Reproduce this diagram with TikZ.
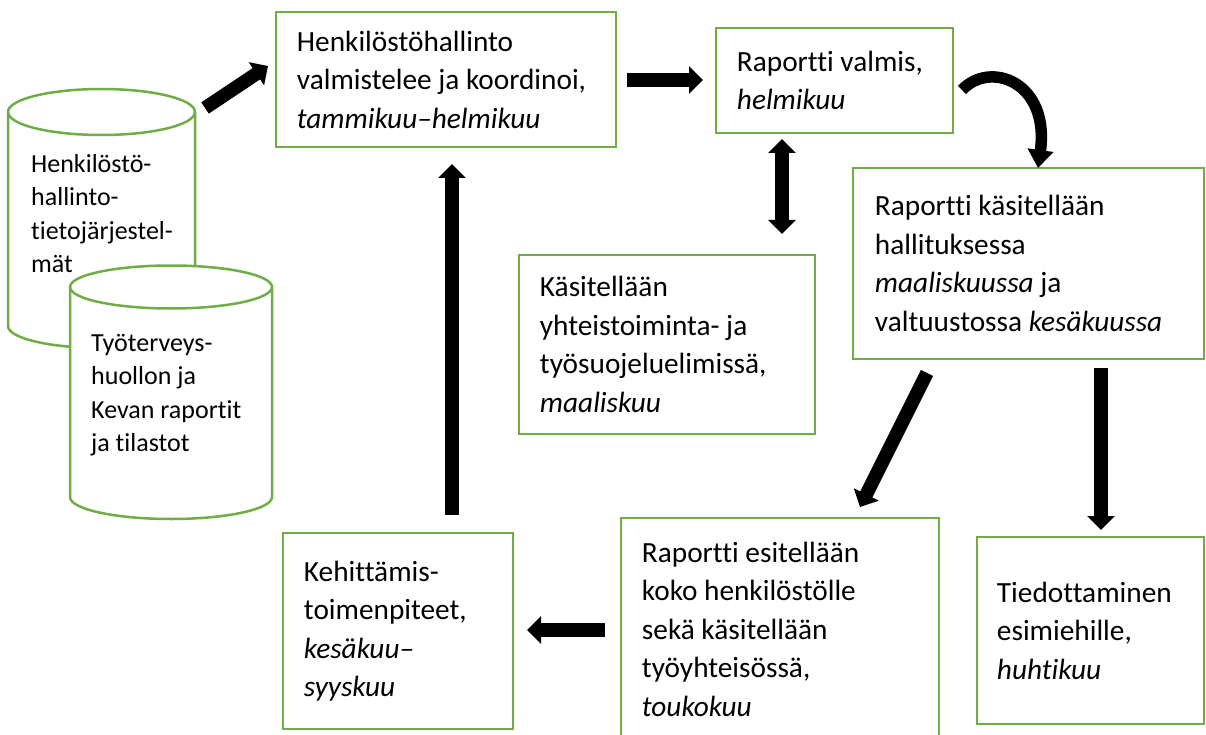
\documentclass[tikz,border=0pt]{standalone}
\usepackage{fontspec}
\setmainfont{Carlito}[Ligatures={NoCommon}]
\usetikzlibrary{arrows.meta}
\definecolor{boxgreen}{RGB}{112,173,71}
\begin{document}
\begin{tikzpicture}[x=1pt,y=-1pt,
  box/.style={draw=boxgreen, line width=2.5pt, rectangle, inner sep=0pt, fill=white},
  txt/.style={anchor=west, align=left, inner sep=0pt, font=\fontsize{29.3pt}{38.5pt}\selectfont},
  ctxt/.style={anchor=north west, align=left, inner sep=0pt, font=\fontsize{26pt}{33.5pt}\selectfont},
  cyl/.style={draw=boxgreen, line width=2.5pt, fill=white},
  blk/.style={draw=black, line width=13.5pt, -{Triangle[length=14pt,width=27pt]}},
  dblk/.style={draw=black, line width=13.5pt, {Triangle[length=14pt,width=27pt]}-{Triangle[length=14pt,width=27pt]}},
  cblk/.style={draw=black, line width=11.5pt, -{Triangle[length=18pt,width=25pt]}},
]
\fill[white] (0,0) rectangle (1206,735);
\useasboundingbox (0,0) rectangle (1206,735);

% cylinders
\path[cyl] (8,112) -- (8,326) arc[start angle=180,end angle=360,x radius=93.5pt,y radius=22pt]
  -- (195,112) arc[start angle=0,end angle=180,x radius=93.5pt,y radius=23pt] -- cycle;
\draw[boxgreen, line width=2.5pt] (8,112) arc[start angle=180,end angle=360,x radius=93.5pt,y radius=23pt];
\node[ctxt] (c1) at (31,154) {Henkilöstö-\\hallinto-\\tietojärjestel-\\mät};

\path[cyl] (70,287) -- (70,497) arc[start angle=180,end angle=360,x radius=101pt,y radius=22pt]
  -- (272,287) arc[start angle=0,end angle=180,x radius=101pt,y radius=21.5pt] -- cycle;
\draw[boxgreen, line width=2.5pt] (70,287) arc[start angle=180,end angle=360,x radius=101pt,y radius=21.5pt];
\node[ctxt] (c2) at (91,334) {Työterveys-\\huollon ja\\Kevan raportit\\ja tilastot};

% boxes
\node[box, minimum width=340pt, minimum height=135pt] (b1) at (446,79.5) {};
\node[txt] (t1) at ([xshift=22pt]b1.west) {Henkilöstöhallinto\\valmistelee ja koordinoi,\\\textit{tammikuu–helmikuu}};

\node[box, minimum width=237pt, minimum height=105pt] (b2) at (834.5,80.5) {};
\node[txt] (t2) at ([xshift=22pt]b2.west) {Raportti valmis,\\\textit{helmikuu}};

\node[box, minimum width=351pt, minimum height=191pt] (b3) at (1028.5,263.5) {};
\node[txt] (t3) at ([xshift=23pt]b3.west) {Raportti käsitellään\\hallituksessa\\\textit{maaliskuussa} ja\\valtuustossa \textit{kesäkuussa}};

\node[box, minimum width=296pt, minimum height=179pt] (b4) at (667,344.5) {};
\node[txt] (t4) at ([xshift=22pt]b4.west) {Käsitellään\\yhteistoiminta- ja\\työsuojeluelimissä,\\\textit{maaliskuu}};

\node[box, minimum width=318pt, minimum height=222pt] (b5) at (780,629) {};
\node[txt] (t5) at ([xshift=22pt]b5.west) {Raportti esitellään\\koko henkilöstölle\\sekä käsitellään\\työyhteisössä,\\\textit{toukokuu}};

\node[box, minimum width=227pt, minimum height=187pt] (b6) at (1090.5,630.5) {};
\node[txt] (t6) at ([xshift=21pt]b6.west) {Tiedottaminen\\esimiehille,\\\textit{huhtikuu}};

\node[box, minimum width=230pt, minimum height=196pt] (b7) at (398,631) {};
\node[txt] (t7) at ([xshift=22pt]b7.west) {Kehittämis-\\toimenpiteet,\\\textit{kesäkuu–}\\\textit{syyskuu}};

% arrow end points
\coordinate (a1s) at (205,108);  \coordinate (a1e) at (268,66);
\coordinate (a2s) at (627,80);   \coordinate (a2e) at (703,80);
\coordinate (a3s) at (962,90);   \coordinate (a3e) at (1038,168);
\coordinate (a4s) at (782,139);  \coordinate (a4e) at (782,234);
\coordinate (a5s) at (927,373);  \coordinate (a5e) at (860,507);
\coordinate (a6s) at (1101,368); \coordinate (a6e) at (1101,530);
\coordinate (a7s) at (605,630);  \coordinate (a7e) at (527,630);
\coordinate (a8s) at (452,515);  \coordinate (a8e) at (452,164);

\draw[blk] (a1s) -- (a1e);
\draw[blk] (a2s) -- (a2e);
\draw[cblk] (a3s) .. controls (990,60) and (1050,82) .. (a3e);
\draw[dblk] (a4s) -- (a4e);
\draw[blk] (a5s) -- (a5e);
\draw[blk] (a6s) -- (a6e);
\draw[blk] (a7s) -- (a7e);
\draw[blk] (a8s) -- (a8e);
\end{tikzpicture}
\end{document}
